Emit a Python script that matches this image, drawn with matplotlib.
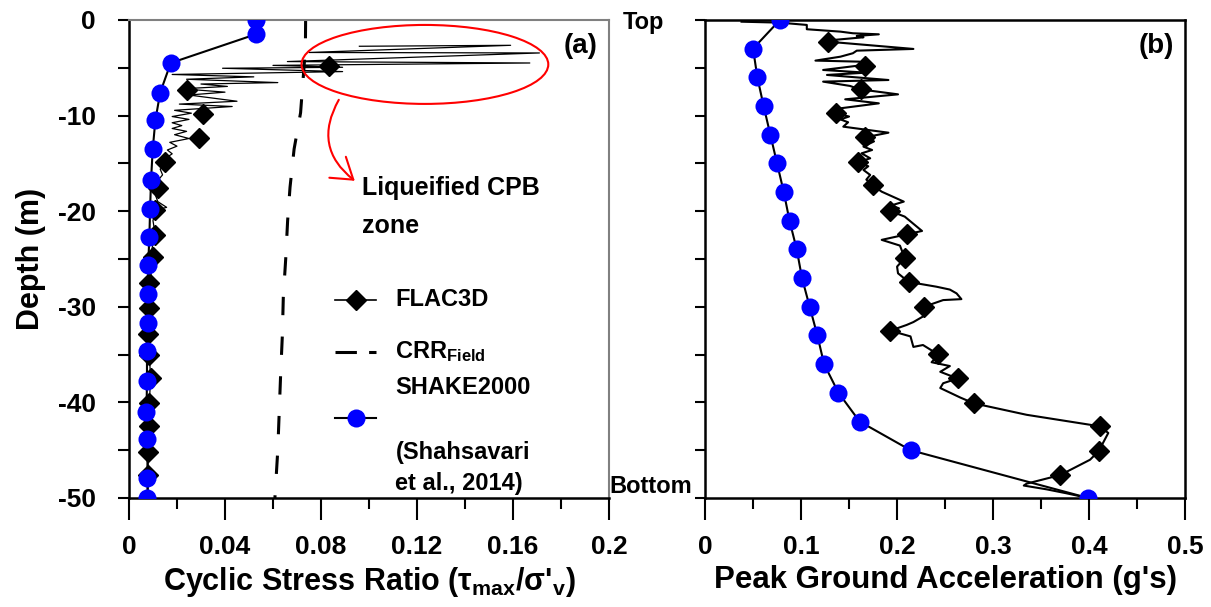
import matplotlib
matplotlib.use("Agg")
import matplotlib.pyplot as plt
from matplotlib.patches import Ellipse, FancyArrowPatch
from matplotlib.transforms import ScaledTranslation

plt.rcParams['font.family'] = ['Liberation Sans', 'DejaVu Sans']
plt.rcParams['font.weight'] = 'bold'
plt.rcParams['axes.unicode_minus'] = False
plt.rcParams['mathtext.fontset'] = 'custom'
plt.rcParams['mathtext.rm'] = 'Liberation Sans'
plt.rcParams['mathtext.bf'] = 'Liberation Sans:bold'
plt.rcParams['mathtext.it'] = 'Liberation Sans:italic'

# (a) cyclic stress ratio profiles
shake_csr = [0.0528, 0.0528, 0.0174, 0.013, 0.011, 0.0099, 0.0092, 0.0088, 0.0085,
             0.008, 0.008, 0.0078, 0.0075, 0.0075, 0.0073, 0.0077, 0.0077, 0.0077]
shake_csr_depth = [0, -1.5, -4.5, -7.6, -10.5, -13.5, -16.7, -19.8, -22.7,
                   -25.6, -28.7, -31.7, -34.6, -37.8, -41.0, -43.8, -47.9, -50]

flac_csr = [0.0835, 0.024, 0.031, 0.029, 0.015, 0.012, 0.011, 0.0108, 0.0101, 0.0085,
            0.0085, 0.008, 0.0085, 0.009, 0.0085, 0.0085, 0.008, 0.008]
flac_csr_depth = [-4.78, -7.3, -9.8, -12.3, -14.9, -17.6, -19.9, -22.5, -24.8, -27.5,
                  -30.1, -32.8, -35.0, -37.5, -40.1, -42.5, -45.2, -47.6]

flac_csr_line = [0.096, 0.159, 0.075, 0.171, 0.066, 0.167, 0.060, 0.089, 0.039, 0.089,
                 0.018, 0.052, 0.024, 0.062, 0.030, 0.041, 0.022, 0.040, 0.025, 0.045,
                 0.021, 0.043, 0.019, 0.026, 0.018, 0.025, 0.018, 0.022, 0.018, 0.024,
                 0.019, 0.025, 0.017, 0.020, 0.016, 0.018, 0.015, 0.016, 0.013, 0.014,
                 0.012, 0.013, 0.011, 0.012, 0.0157, 0.011, 0.010, 0.011, 0.0095, 0.010,
                 0.009, 0.0085, 0.0085, 0.008, 0.0085, 0.009, 0.0085, 0.0085, 0.008, 0.008,
                 0.008]
flac_csr_line_depth = [-2.75, -2.65, -3.40, -3.45, -4.35, -4.50, -4.75, -4.95, -5.05, -5.40,
                       -5.70, -5.95, -6.20, -6.55, -6.70, -6.95, -7.20, -7.55, -7.85, -8.50,
                       -8.80, -9.05, -9.45, -9.75, -10.10, -10.40, -10.75, -11.05, -11.35, -11.65,
                       -12.00, -12.40, -12.80, -13.20, -13.60, -14.00, -14.50, -15.00, -15.60, -16.20,
                       -16.80, -17.50, -18.30, -19.00, -19.60, -19.90, -21.00, -22.50, -24.0, -25.0,
                       -27.0, -29.0, -31.0, -33.0, -35.0, -37.5, -40.0, -42.5, -45.0, -47.5,
                       -50.0]

crr_field = [0.0736, 0.0735, 0.0715, 0.0688, 0.0671, 0.0661, 0.0653, 0.0643, 0.0639,
             0.0632, 0.0626, 0.062, 0.0608]
crr_depth = [0, -3, -9.7, -13.5, -17.5, -21, -25, -29, -33, -37, -41, -45, -50]

# (b) peak ground acceleration profiles
shake_pga = [0.078, 0.050, 0.0545, 0.061, 0.068, 0.075, 0.082, 0.088, 0.0955,
             0.101, 0.109, 0.117, 0.124, 0.139, 0.161, 0.214, 0.399]
shake_pga_depth = [0, -3, -6, -9, -12, -15, -18, -21, -24, -27, -30, -33, -36, -39,
                   -42, -45, -50]

flac_pga = [0.128, 0.167, 0.162, 0.136, 0.167, 0.159, 0.175, 0.193, 0.210, 0.208,
            0.212, 0.228, 0.193, 0.243, 0.263, 0.280, 0.411, 0.410, 0.370]
flac_pga_depth = [-2.27, -4.78, -7.25, -9.76, -12.27, -14.9, -17.3, -19.95, -22.4, -24.9,
                  -27.4, -30.0, -32.5, -34.9, -37.5, -40.1, -42.5, -45.1, -47.6]

flac_pga_line = [0.038, 0.078, 0.106, 0.106, 0.141, 0.154, 0.181, 0.158, 0.165, 0.134,
                 0.128, 0.217, 0.158, 0.154, 0.141, 0.115, 0.161, 0.165, 0.123, 0.168,
                 0.127, 0.191, 0.123, 0.151, 0.161, 0.201, 0.146, 0.181, 0.141, 0.136,
                 0.150, 0.141, 0.149, 0.144, 0.191, 0.167, 0.176, 0.165, 0.174, 0.163,
                 0.172, 0.159, 0.170, 0.165, 0.172, 0.168, 0.175, 0.184, 0.207, 0.194,
                 0.202, 0.196, 0.208, 0.226, 0.184, 0.203, 0.208, 0.200,
                 0.201, 0.212, 0.241, 0.255, 0.262, 0.267, 0.248, 0.228, 0.229, 0.217,
                 0.210, 0.193, 0.214, 0.217, 0.227, 0.243, 0.236, 0.255, 0.245, 0.263,
                 0.248, 0.245, 0.266, 0.280, 0.335, 0.411, 0.420, 0.410, 0.401, 0.370,
                 0.335, 0.332, 0.356, 0.376, 0.399]
flac_pga_line_depth = [-0.18, -0.28, -0.52, -0.97, -1.22, -1.39, -1.50, -1.67, -1.81, -2.09,
                       -2.27, -3.03, -3.21, -3.48, -3.84, -4.25, -4.36, -4.71, -5.23, -5.51,
                       -5.75, -6.28, -6.45, -6.90, -7.25, -7.78, -8.30, -8.72, -9.24, -9.76,
                       -10.10, -10.40, -10.70, -11.16, -11.79, -12.27, -12.70, -13.25, -13.60, -13.95,
                       -14.47, -14.89, -15.30, -15.69, -16.21, -16.70, -17.33, -17.96, -19.00, -19.40,
                       -19.70, -20.10, -20.57, -22.07, -23.0, -23.6, -24.9, -25.8,
                       -26.5, -27.4, -27.9, -28.2, -28.6, -29.2, -29.3, -30.0, -30.9, -31.6,
                       -31.9, -32.5, -33.1, -34.2, -34.0, -35.0, -35.8, -36.2, -36.8, -37.5,
                       -38.0, -38.5, -39.5, -40.1, -41.3, -42.5, -43.2, -45.1, -46.0, -47.6,
                       -48.5, -48.7, -49.1, -49.5, -50.0]

fig = plt.figure(figsize=(12.11, 6.07), dpi=100)
ax1 = fig.add_axes([0.1065, 0.1796, 0.3964, 0.7875])
ax2 = fig.add_axes([0.5822, 0.1796, 0.3964, 0.7875])

# ---- (a) ----
ax1.plot(flac_csr_line, flac_csr_line_depth, color='black', lw=0.9, zorder=2)
ax1.plot(flac_csr, flac_csr_depth, 'D', color='black', ms=10, zorder=3)
ax1.plot(crr_field, crr_depth, color='black', lw=2.2, dashes=(6, 7), zorder=2)
ax1.plot(shake_csr, shake_csr_depth, color='black', lw=1.5, zorder=4)
ax1.plot(shake_csr, shake_csr_depth, 'o', color='#0000ff', ms=13, mec='none', zorder=5)

ax1.set_xlim(0, 0.2)
ax1.set_ylim(-50, 0)
ax1.set_xticks([0, 0.04, 0.08, 0.12, 0.16, 0.2])
ax1.set_xticklabels(['0', '0.04', '0.08', '0.12', '0.16', '0.2'])
ax1.set_xticks([0.02, 0.06, 0.10, 0.14, 0.18], minor=True)
ax1.set_yticks([0, -10, -20, -30, -40, -50])
ax1.set_yticks([-5, -15, -25, -35, -45], minor=True)
ax1.tick_params(axis='x', which='major', direction='out', length=16, width=1.5,
                labelsize=19, pad=11)
ax1.tick_params(axis='x', which='minor', direction='out', length=8, width=1.5)
ax1.tick_params(axis='y', which='both', direction='out', length=8, width=1.5,
                labelsize=19, pad=16)
ax1.set_ylabel('Depth (m)', fontsize=22, fontweight='bold', labelpad=8)
ax1.set_xlabel(r"Cyclic Stress Ratio ($\mathrm{\tau}_{\mathbf{max}}$/$\mathrm{\sigma}$'$_{\mathbf{v}}$)",
               fontsize=22, fontweight='bold', labelpad=4)
for side in ['left', 'bottom']:
    ax1.spines[side].set_linewidth(1.8)
for side in ['top', 'right']:
    ax1.spines[side].set_color('#808080')
    ax1.spines[side].set_linewidth(1.5)

ax1.text(0.94, 0.945, '(a)', transform=ax1.transAxes, fontsize=20, fontweight='bold',
         ha='center', va='center')

# liquefied zone marker
ax1.add_patch(Ellipse((0.1233, -4.65), 0.1028, 8.26, fill=False, ec='red', lw=1.5, zorder=6))
ax1.add_patch(FancyArrowPatch((0.088, -8.1), (0.095, -17.0), connectionstyle='arc3,rad=0.45',
                              arrowstyle='->,head_length=6,head_width=4', color='red',
                              lw=1.5, mutation_scale=2.4, zorder=6))
ax1.text(0.097, -16.3, 'Liqueified CPB\nzone', fontsize=18, fontweight='bold',
         ha='left', va='top', linespacing=1.75)

# hand-placed legend
lx0, lx1, lxm, ltx = 0.43, 0.515, 0.4725, 0.555
ax1.plot([lx0, lx1], [0.415, 0.415], color='black', lw=1.2, transform=ax1.transAxes)
ax1.plot([lxm], [0.415], 'D', color='black', ms=10, transform=ax1.transAxes)
ax1.text(ltx, 0.415, 'FLAC3D', transform=ax1.transAxes, fontsize=17, fontweight='bold',
         va='center')
ax1.plot([lx0, lx1], [0.306, 0.306], color='black', lw=2.2, dashes=(7, 4),
         transform=ax1.transAxes)
ax1.text(ltx, 0.306, r'CRR$_{\mathbf{Field}}$', transform=ax1.transAxes, fontsize=17,
         fontweight='bold', va='center')
ax1.plot([lx0, lx1], [0.167, 0.167], color='black', lw=1.5, transform=ax1.transAxes)
ax1.plot([lxm], [0.167], 'o', color='#0000ff', ms=13, mec='none', transform=ax1.transAxes)
ax1.text(ltx, 0.232, 'SHAKE2000', transform=ax1.transAxes, fontsize=17, fontweight='bold',
         va='center')
ax1.text(ltx, 0.062, '(Shahsavari\net al., 2014)', transform=ax1.transAxes, fontsize=17,
         fontweight='bold', va='center', linespacing=1.45)

# ---- (b) ----
ax2.plot(flac_pga_line, flac_pga_line_depth, color='black', lw=1.5, zorder=2)
ax2.plot(flac_pga, flac_pga_depth, 'D', color='black', ms=10, zorder=3)
ax2.plot(shake_pga, shake_pga_depth, color='black', lw=1.5, zorder=4)
ax2.plot(shake_pga, shake_pga_depth, 'o', color='#0000ff', ms=13, mec='none', zorder=5)

ax2.set_xlim(0, 0.5)
ax2.set_ylim(-50, 0)
ax2.set_xticks([0, 0.1, 0.2, 0.3, 0.4, 0.5])
ax2.set_xticklabels(['0', '0.1', '0.2', '0.3', '0.4', '0.5'])
ax2.set_xticks([0.05, 0.15, 0.25, 0.35, 0.45], minor=True)
ax2.set_yticks(list(range(0, -55, -5)))
ax2.set_yticklabels(['Top'] + [''] * 9 + ['Bottom'])
ax2.tick_params(axis='x', which='major', direction='out', length=16, width=1.5,
                labelsize=19, pad=11)
ax2.tick_params(axis='x', which='minor', direction='out', length=8, width=1.5)
ax2.tick_params(axis='y', which='both', direction='out', length=7, width=1.5,
                labelsize=17, pad=2)
ylabels = ax2.get_yticklabels()
ylabels[-1].set_va('bottom')
ylabels[0].set_transform(ylabels[0].get_transform()
                         + ScaledTranslation(-0.28, 0, fig.dpi_scale_trans))
ax2.set_xlabel("Peak Ground Acceleration (g's)", fontsize=22.5, fontweight='bold', labelpad=4)
for side in ax2.spines:
    ax2.spines[side].set_linewidth(1.8)
ax2.text(0.94, 0.945, '(b)', transform=ax2.transAxes, fontsize=20, fontweight='bold',
         ha='center', va='center')

fig.savefig('out.png', dpi=100)
